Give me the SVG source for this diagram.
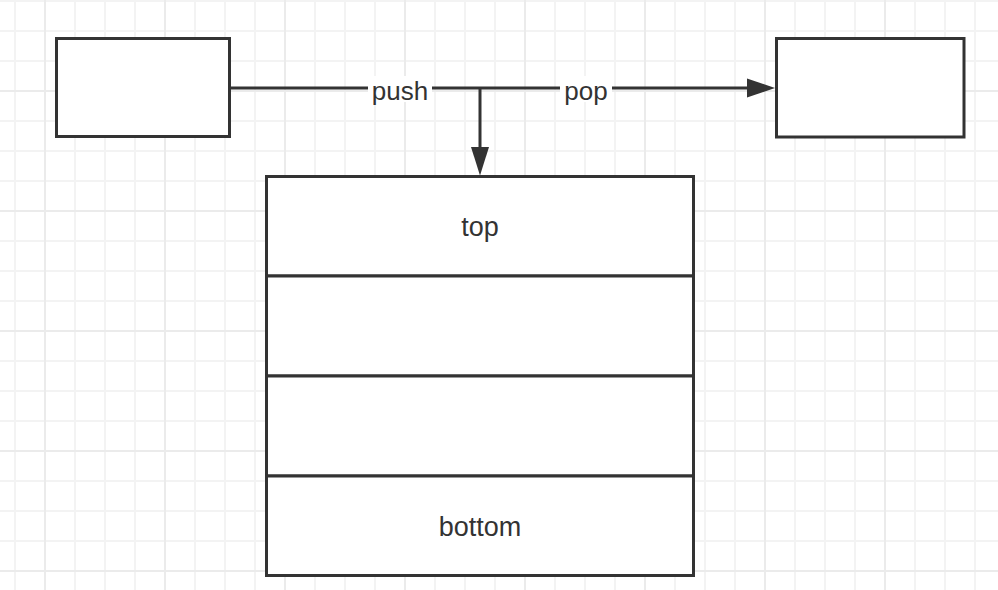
<svg xmlns="http://www.w3.org/2000/svg" width="998" height="590" viewBox="0 0 998 590">
<style>
.box{fill:#fff;stroke:#333;stroke-width:3}
.conn{fill:none;stroke:#333;stroke-width:3}
.head{fill:#333;stroke:none}
.lbl{font-family:"Liberation Sans",Arial,sans-serif;font-size:26px;fill:#333;text-anchor:middle}
.cell{font-family:"Liberation Sans",Arial,sans-serif;font-size:27px;fill:#333;text-anchor:middle}
</style>
<defs>
<pattern id="minor" patternUnits="userSpaceOnUse" x="0" y="0" width="30" height="30">
<path d="M15 0V30M0 1H30" stroke="#f3f3f3" stroke-width="2" fill="none"/>
</pattern>
<pattern id="major" patternUnits="userSpaceOnUse" x="0" y="0" width="120" height="120">
<path d="M45 0V120M0 91H120" stroke="#ebebeb" stroke-width="2" fill="none"/>
</pattern>
</defs>
<rect width="998" height="590" fill="#fff"/>
<rect width="998" height="590" fill="url(#minor)"/>
<rect width="998" height="590" fill="url(#major)"/>
<g id="connectors">
<path class="conn" d="M231 88H748"/>
<path class="head" d="M747 78.5L775 88L747 97.5Z"/>
<path class="conn" d="M480 88V148"/>
<path class="head" d="M471 147L480 175.5L489 147Z"/>
<rect x="368" y="76" width="64" height="26" fill="#fff"/>
<rect x="560" y="76" width="52" height="26" fill="#fff"/>
<text class="lbl" x="400" y="100">push</text>
<text class="lbl" x="586" y="100">pop</text>
</g>
<g id="source"><rect class="box" x="56.5" y="38.5" width="173" height="98"/></g>
<g id="target"><rect class="box" x="776.5" y="38.5" width="187.5" height="98.5"/></g>
<g id="stack">
<rect class="box" x="266.5" y="176.5" width="427" height="99.5"/>
<rect class="box" x="266.5" y="276" width="427" height="100"/>
<rect class="box" x="266.5" y="376" width="427" height="100"/>
<rect class="box" x="266.5" y="476" width="427" height="99.5"/>
<text class="cell" x="480" y="236">top</text>
<text class="cell" x="480" y="536">bottom</text>
</g>
</svg>
